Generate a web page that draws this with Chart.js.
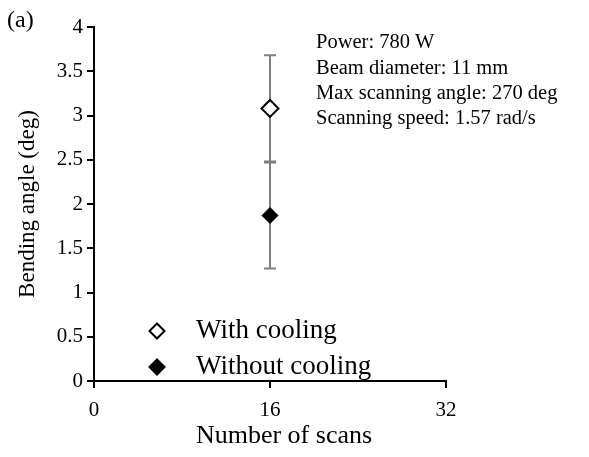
<!DOCTYPE html>
<html>
<head>
<meta charset="utf-8">
<script src="https://cdn.jsdelivr.net/npm/chart.js@4.4.0/dist/chart.umd.min.js"></script>
<style>
html, body { margin: 0; padding: 0; background: #fff; }
#wrap { width: 589px; height: 457px; position: relative; }
</style>
</head>
<body>
<div id="wrap"><canvas id="grafica_doblado"></canvas></div>
<script>
// datos
var numScans = [16];
var withCooling = [3.08];
var withoutCooling = [1.87];
var withCoolingErr = [0.6];
var withoutCoolingErr = [0.6];
var seriesNames = ["With cooling", "Without cooling"];
var notes = ["Power: 780 W", "Beam diameter: 11 mm", "Max scanning angle: 270 deg", "Scanning speed: 1.57 rad/s"];
var panelLabel = "(a)";
var xTitle = "Number of scans";
var yTitle = "Bending angle (deg)";

var serif = "'Liberation Serif', 'Times New Roman', serif";
var grafica;

function puntos(xs, ys) {
    var out = [];
    for (var i = 0; i < xs.length; i++) {
        out.push({ x: xs[i], y: ys[i] });
    }
    return out;
}

// barras de error, leyenda y textos
var extras = {
    id: "extras",
    beforeDatasetsDraw: function (chart) {
        var ctx = chart.ctx;
        var xs = chart.scales.x;
        var ys = chart.scales.y;
        var errs = [withCoolingErr, withoutCoolingErr];
        ctx.save();
        ctx.strokeStyle = "#7f7f7f";
        ctx.lineWidth = 2;
        chart.data.datasets.forEach(function (ds, d) {
            ds.data.forEach(function (p, i) {
                var px = xs.getPixelForValue(p.x);
                var top = ys.getPixelForValue(p.y + errs[d][i]);
                var bot = ys.getPixelForValue(p.y - errs[d][i]);
                ctx.beginPath();
                ctx.moveTo(px, top);
                ctx.lineTo(px, bot);
                ctx.moveTo(px - 6, top);
                ctx.lineTo(px + 6, top);
                ctx.moveTo(px - 6, bot);
                ctx.lineTo(px + 6, bot);
                ctx.stroke();
            });
        });
        ctx.restore();
    },
    afterDraw: function (chart) {
        var ctx = chart.ctx;
        ctx.save();
        ctx.fillStyle = "#000";
        ctx.textBaseline = "middle";
        ctx.textAlign = "left";

        ctx.font = "24px " + serif;
        ctx.fillText(panelLabel, 7, 21);

        ctx.font = "20.5px " + serif;
        notes.forEach(function (t, i) {
            ctx.fillText(t, 316, 43 + i * 25.3);
        });

        // titulo del eje x (desplazado como en la figura)
        ctx.textAlign = "center";
        ctx.font = "26px " + serif;
        ctx.fillText(xTitle, 284, 436);
        ctx.textAlign = "left";

        // leyenda
        ctx.font = "27px " + serif;
        chart.data.datasets.forEach(function (ds, i) {
            var y = 331 + i * 36;
            ctx.fillStyle = ds.backgroundColor;
            ctx.strokeStyle = "#000";
            ctx.lineWidth = 2;
            ctx.beginPath();
            ctx.moveTo(157, y - 7.5);
            ctx.lineTo(164.5, y);
            ctx.lineTo(157, y + 7.5);
            ctx.lineTo(149.5, y);
            ctx.closePath();
            ctx.fill();
            ctx.stroke();
            ctx.fillStyle = "#000";
            ctx.fillText(seriesNames[i], 196, y);
        });
        ctx.restore();
    }
};

function grafica_doblado() {
    var datos = {
        type: "scatter",
        data: {
            datasets: [{
                label: seriesNames[0],
                data: puntos(numScans, withCooling),
                pointStyle: "rectRot",
                pointRadius: 8.5,
                pointHoverRadius: 8.5,
                backgroundColor: "#ffffff",
                borderColor: "#000000",
                borderWidth: 2
            }, {
                label: seriesNames[1],
                data: puntos(numScans, withoutCooling),
                pointStyle: "rectRot",
                pointRadius: 8,
                pointHoverRadius: 8,
                backgroundColor: "#000000",
                borderColor: "#000000",
                borderWidth: 1
            }]
        },
        options: {
            responsive: true,
            maintainAspectRatio: false,
            animation: false,
            layout: { padding: { left: 0, top: 27, right: 143, bottom: 0 } },
            plugins: {
                legend: { display: false },
                tooltip: { enabled: false }
            },
            scales: {
                x: {
                    type: "linear",
                    min: 0,
                    max: 32,
                    ticks: { stepSize: 16, color: "#000", padding: 10, font: { family: serif, size: 21 } },
                    grid: { drawOnChartArea: false, drawTicks: true, tickLength: 7, color: "#000", lineWidth: 2 },
                    border: { display: true, color: "#000", width: 2 },
                    title: { display: false },
                    afterFit: function (s) { s.height = 76; }
                },
                y: {
                    min: 0,
                    max: 4,
                    ticks: {
                        stepSize: 0.5,
                        color: "#000",
                        padding: 4,
                        font: { family: serif, size: 21 },
                        callback: function (v) { return String(Number(v)); }
                    },
                    grid: { drawOnChartArea: false, drawTicks: true, tickLength: 7, color: "#000", lineWidth: 2 },
                    border: { display: true, color: "#000", width: 2 },
                    title: { display: true, text: yTitle, color: "#000", padding: { top: 14, bottom: 0 }, font: { family: serif, size: 23 } },
                    afterFit: function (s) { s.width = 94; }
                }
            }
        },
        plugins: [extras]
    };
    grafica = new Chart(document.getElementById("grafica_doblado"), datos);
}

grafica_doblado();
</script>
</body>
</html>
